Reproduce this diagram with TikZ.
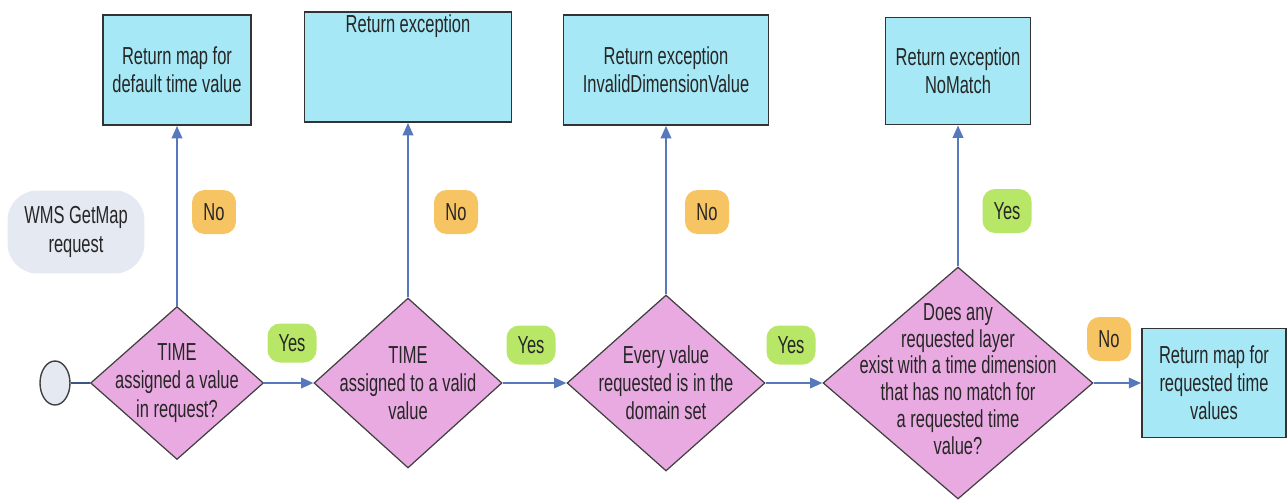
\documentclass[tikz,border=0pt]{standalone}
\usepackage{fontspec}
\setmainfont{Liberation Sans}[FakeStretch=0.67]
\usetikzlibrary{positioning,arrows.meta,shapes.geometric}

\definecolor{boxcyan}{RGB}{166,232,245}
\definecolor{diapink}{RGB}{233,170,225}
\definecolor{yesgreen}{RGB}{184,230,102}
\definecolor{noorange}{RGB}{246,196,98}
\definecolor{wmsgray}{RGB}{228,233,242}
\definecolor{flowblue}{RGB}{88,120,190}

\begin{document}
\begin{tikzpicture}[x=0.02cm, y=-0.02cm,
        font=\fontsize{14}{16}\selectfont, text=black!85,
        result/.style={rectangle, draw=black!80, line width=1.1pt, fill=boxcyan,
          align=center, inner sep=0pt, minimum height=2.2cm},
        decision/.style={diamond, draw=black!75, line width=0.7pt, fill=diapink,
          inner sep=0pt},
        qtext/.style={align=center, inner sep=0pt},
        yestag/.style={rounded corners=0.25cm, fill=yesgreen, minimum width=0.98cm,
          minimum height=0.78cm, inner sep=0pt},
        notag/.style={rounded corners=0.25cm, fill=noorange, minimum width=0.88cm,
          minimum height=0.88cm, inner sep=0pt},
        flow/.style={draw=flowblue, line width=1pt, -{Triangle[length=7pt,width=6pt]}}]
        \useasboundingbox (0,0) rectangle (1287,501);

        % request and start
        \node[rounded corners=0.6cm, fill=wmsgray, minimum width=2.74cm,
          minimum height=1.66cm, align=center] (wms) at (76,232) {WMS GetMap\\request};
        \node[ellipse, draw=black!75, line width=0.8pt, fill=wmsgray,
          minimum width=0.6cm, minimum height=0.88cm, inner sep=0pt] (start) at (55,383) {};

        % decisions
        \node[decision, minimum width=3.46cm, minimum height=3.06cm,
          label={[qtext]center:TIME\\assigned a value\\in request?}] (d1) at (177,383) {};
        \node[decision, minimum width=3.76cm, minimum height=3.4cm,
          label={[qtext]center:TIME\\assigned to a valid\\value}] (d2) at (408,383) {};
        \node[decision, minimum width=3.96cm, minimum height=3.52cm,
          label={[qtext]center:Every value\\requested is in the\\domain set}] (d3) at (666,383) {};
        \node[decision, minimum width=5.4cm, minimum height=4.64cm,
          label={[qtext, font=\fontsize{14}{15.3}\selectfont, yshift=0.08cm]center:Does any\\requested layer\\exist with a time dimension\\that has no match for\\a requested time\\value?}] (d4) at (958,383) {};

        % results
        \node[result, minimum width=2.96cm] (r1) at (177,70) {Return map for\\default time value};
        \node[result, minimum width=4.14cm, minimum height=0pt, text height=0.4cm,
          text depth=1.8cm] (r2) at (408,67) {Return exception};
        \node[result, minimum width=4.1cm] (r3) at (666,70) {Return exception\\InvalidDimensionValue};
        \node[result, minimum width=2.9cm, minimum height=2.14cm] (r4) at (958,71) {Return exception\\NoMatch};
        \node[result, minimum width=2.88cm, minimum height=2.18cm] (r5) at (1214,383) {Return map for\\requested time\\values};

        % tags
        \node[notag] (n1) at (214,212) {No};
        \node[yestag] (y1) at (292,343) {Yes};
        \node[notag] (n2) at (456,212) {No};
        \node[yestag] (y2) at (531,345) {Yes};
        \node[notag] (n3) at (707,212) {No};
        \node[yestag] (y3) at (791,345) {Yes};
        \node[yestag, minimum height=0.88cm] (y4) at (1007,211) {Yes};
        \node[notag] (n4) at (1109,339) {No};

        % connectors
        \draw[draw=flowblue!70!black, line width=0.8pt] (start) -- (d1);
        \draw[flow] (d1.east) -- (d2.west);
        \draw[flow] (d2.east) -- (d3.west);
        \draw[flow] (d3.east) -- (d4.west);
        \draw[flow] (d4.east) -- (r5.west);
        \draw[flow] (d1.north) -- (r1.south);
        \draw[flow] (d2.north) -- (r2.south);
        \draw[flow] (d3.north) -- (r3.south);
        \draw[flow] (d4.north) -- (r4.south);
\end{tikzpicture}
\end{document}
